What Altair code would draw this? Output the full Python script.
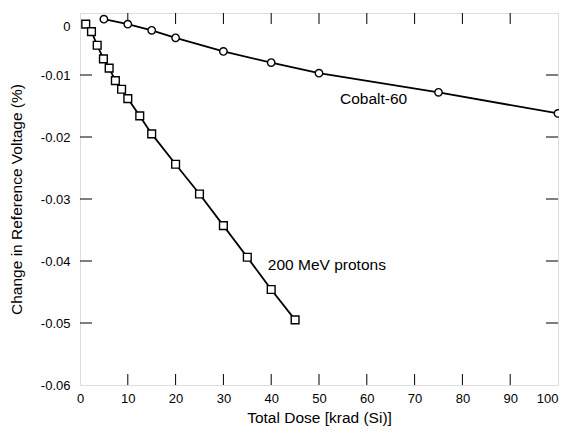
import altair as alt
import pandas as pd

# Data
cobalt_dose = [5, 10, 15, 20, 30, 40, 50, 75, 100]
cobalt_change = [-0.0010, -0.0018, -0.0028, -0.0040, -0.0062, -0.0080, -0.0097, -0.0128, -0.0162]

proton_dose = [1.2, 2.4, 3.6, 4.9, 6.1, 7.4, 8.7, 10, 12.5, 15, 20, 25, 30, 35, 40, 45]
proton_change = [-0.0018, -0.0030, -0.0052, -0.0074, -0.0089, -0.0109, -0.0123, -0.0138,
                 -0.0166, -0.0195, -0.0244, -0.0292, -0.0343, -0.0394, -0.0446, -0.0495]

x_ticks = [10, 20, 30, 40, 50, 60, 70, 80, 90]
y_ticks = [-0.01, -0.02, -0.03, -0.04, -0.05]

labels = ["Cobalt-60", "200 MeV protons"]
label_x = [54.4, 39.3]
label_y = [-0.0139, -0.0407]

FONT = "Liberation Sans"
TICK_FS = 13
TITLE_FS = 15.5
W, H = 478, 372

cob = pd.DataFrame({"dose": cobalt_dose, "change": cobalt_change})
pro = pd.DataFrame({"dose": proton_dose, "change": proton_change})
xt = pd.DataFrame({"v": x_ticks})
yt = pd.DataFrame({"v": y_ticks})
lab = pd.DataFrame({"text": labels, "x": label_x, "y": label_y})

xscale = alt.Scale(domain=[0, 100], nice=False, zero=False)
yscale = alt.Scale(domain=[-0.06, 0], nice=False, zero=False)

xaxis = alt.Axis(
    title="Total Dose [krad (Si)]", values=list(range(0, 101, 10)), ticks=False,
    labelFont=FONT, labelFontSize=TICK_FS, titleFont=FONT, titleFontSize=TITLE_FS,
    titleFontWeight="normal", labelColor="black", titleColor="black",
    labelPadding=7, titlePadding=5, domain=False, grid=False,
    labelAlign={"condition": {"test": "datum.value == 100", "value": "right"}, "value": "center"},
)
yaxis = alt.Axis(
    title="Change in Reference Voltage (%)", values=[0, -0.01, -0.02, -0.03, -0.04, -0.05, -0.06],
    labelExpr="datum.value == 0 ? '0' : '-' + format(-datum.value, '.2f')",
    ticks=False,
    labelFont=FONT, labelFontSize=TICK_FS, titleFont=FONT, titleFontSize=TITLE_FS,
    titleFontWeight="normal", labelColor="black", titleColor="black",
    labelPadding=10, titlePadding=16, domain=False, grid=False,
    labelOffset={"condition": {"test": "datum.value == 0", "value": 13}, "value": 0},
)

x = alt.X("dose:Q", scale=xscale, axis=xaxis)
y = alt.Y("change:Q", scale=yscale, axis=yaxis)

cob_line = alt.Chart(cob).mark_line(color="black", strokeWidth=1.8).encode(x=x, y=y)
cob_pts = alt.Chart(cob).mark_point(shape="circle", size=55, filled=True, fill="white",
                                    stroke="black", strokeWidth=1.4, opacity=1).encode(x=x, y=y)
pro_line = alt.Chart(pro).mark_line(color="black", strokeWidth=1.8).encode(x=x, y=y)
pro_pts = alt.Chart(pro).mark_point(shape="square", size=60, filled=True, fill="white",
                                    stroke="black", strokeWidth=1.4, opacity=1).encode(x=x, y=y)

xt_bot = alt.Chart(xt).mark_rule(color="black", strokeWidth=1).encode(
    x=alt.X("v:Q", scale=xscale), y=alt.value(H), y2=alt.value(H - 11))
xt_top = alt.Chart(xt).mark_rule(color="black", strokeWidth=1).encode(
    x=alt.X("v:Q", scale=xscale), y=alt.value(0), y2=alt.value(11))
yt_left = alt.Chart(yt).mark_rule(color="black", strokeWidth=1).encode(
    y=alt.Y("v:Q", scale=yscale), x=alt.value(0), x2=alt.value(12))
yt_right = alt.Chart(yt).mark_rule(color="black", strokeWidth=1).encode(
    y=alt.Y("v:Q", scale=yscale), x=alt.value(W), x2=alt.value(W - 12))

text = alt.Chart(lab).mark_text(font=FONT, fontSize=TITLE_FS, align="left", baseline="middle",
                                color="black").encode(
    x=alt.X("x:Q", scale=xscale), y=alt.Y("y:Q", scale=yscale), text="text:N")

chart = alt.layer(
    xt_bot, xt_top, yt_left, yt_right, cob_line, pro_line, cob_pts, pro_pts, text
).properties(
    width=W, height=H,
    autosize=alt.AutoSizeParams(type="none"),
    padding={"left": 72, "top": 5, "right": 1, "bottom": 45},
).configure_view(
    stroke="black", strokeWidth=1.8
).configure(background="white")

chart.save("out.html", embed_options={"renderer": "svg", "actions": False})
